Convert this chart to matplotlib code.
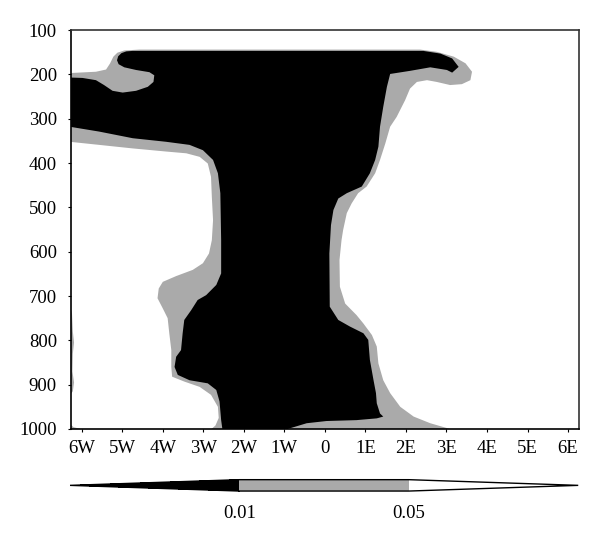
import matplotlib
matplotlib.use('Agg')
import matplotlib.pyplot as plt
from matplotlib.colors import ListedColormap, BoundaryNorm
from matplotlib.cm import ScalarMappable

plt.rcParams['font.family'] = ['Liberation Serif', 'DejaVu Serif']

# significance levels and colours
levels = [0.01, 0.05]
c_low, c_mid, c_high = 'black', '#aaaaaa', 'white'

# x tick positions and labels (distance W/E)
xticks = [-6, -5, -4, -3, -2, -1, 0, 1, 2, 3, 4, 5, 6]
xlabels = ['6W', '5W', '4W', '3W', '2W', '1W', '0', '1E', '2E', '3E', '4E', '5E', '6E']
# pressure levels (hPa)
yticks = [100, 200, 300, 400, 500, 600, 700, 800, 900, 1000]

# region p < 0.05 (outer outline)
grey_x = [-6.30, -5.65, -5.40, -5.30, -5.22, -5.12, -4.95, -4.58, 2.35, 2.76, 3.18, 3.47, 3.63,
          3.59, 3.38, 3.09, 2.76, 2.52, 2.27, 2.10, 1.98, 1.77, 1.61, 1.49, 1.36, 1.24,
          1.03, 0.82, 0.66, 0.54, 0.45, 0.41, 0.36, 0.37, 0.50, 0.78, 0.95, 1.16, 1.28,
          1.32, 1.44, 1.61, 1.86, 2.19, 2.60, 3.09, -2.80, -2.70, -2.62,
          -2.64, -2.81, -3.09, -3.47, -3.77, -3.79, -3.79, -3.84, -3.88, -4.00, -4.13,
          -4.10, -4.00, -3.67, -3.26, -3.01, -2.86, -2.79, -2.76, -2.79, -2.81, -2.89,
          -3.09, -3.42, -3.92, -4.74, -5.57, -6.30]
grey_p = [197, 194, 189, 175, 160, 151, 146, 144, 144, 149, 160, 175, 194,
          213, 222, 224, 217, 213, 217, 232, 258, 296, 318, 356, 393, 423,
          453, 468, 491, 513, 551, 574, 619, 679, 717, 743, 762, 788, 814,
          852, 890, 919, 950, 972, 987, 1000, 1000, 992, 975,
          950, 923, 905, 893, 882, 860, 822, 784, 750, 728, 705,
          683, 668, 655, 641, 626, 604, 574, 529, 476, 431, 401,
          386, 378, 374, 367, 359, 352]

# thin p < 0.05 slivers on the left edge
sliver_x = [-6.30, -6.24, -6.22, -6.19, -6.22, -6.23, -6.19, -6.22, -6.30]
sliver_p = [717, 740, 780, 805, 830, 870, 895, 915, 925]
corner_x = [-6.30, -6.20, -6.02, -6.30]
corner_p = [988, 996, 1000, 1000]

# region p < 0.01
black_x = [-6.30, -5.98, -5.65, -5.45, -5.24, -4.99, -4.66, -4.37, -4.23, -4.21, -4.33,
           -4.66, -4.95, -5.09, -5.13, -5.10, -5.02, -4.90, -4.74, 2.43, 2.85, 3.14, 3.30, 3.14,
           3.01, 2.60, 2.10, 1.61, 1.53, 1.44, 1.36, 1.32, 1.24, 1.11, 0.91, 0.54, 0.33,
           0.21, 0.15, 0.11, 0.12, 0.33, 0.62, 0.95, 1.07, 1.11, 1.20, 1.26, 1.28, 1.36,
           1.44, 1.28, 0.78, 0.04, -0.45, -0.92, -2.53, -2.56, -2.60, -2.68, -2.89,
           -3.34, -3.63, -3.71, -3.67, -3.55, -3.51, -3.47, -3.30, -3.14, -2.93, -2.68,
           -2.56, -2.56, -2.58, -2.64, -2.76, -3.01, -3.34, -3.92, -4.74, -5.57, -6.30]
black_p = [207, 208, 213, 224, 237, 241, 237, 228, 217, 202, 195,
           190, 184, 177, 168, 159, 152, 148, 147, 147, 153, 164, 183, 196,
           190, 184, 192, 199, 228, 273, 318, 363, 393, 423, 453, 468, 480,
           506, 540, 604, 724, 754, 769, 784, 799, 844, 890, 919, 942, 965,
           972, 976, 980, 982, 987, 1000, 1000, 980, 938, 912, 897,
           890, 878, 860, 837, 822, 784, 754, 732, 709, 698, 675,
           649, 574, 468, 423, 393, 371, 359, 352, 344, 329, 318]

fig = plt.figure(figsize=(6, 5.42), dpi=100)
ax = fig.add_axes([0.118, 0.2085, 0.847, 0.736])

ax.fill(grey_x, grey_p, color=c_mid, lw=0)
ax.fill(sliver_x, sliver_p, color=c_mid, lw=0)
ax.fill(corner_x, corner_p, color=c_mid, lw=0)
ax.fill(black_x, black_p, color=c_low, lw=0)

ax.set_xlim(-6.27, 6.27)
ax.set_ylim(1000, 100)
ax.set_xticks(xticks)
ax.set_xticklabels(xlabels)
ax.set_yticks(yticks)
ax.tick_params(direction='out', length=2, width=0.8, labelsize=13.5)
ax.tick_params(axis='x', pad=6)
ax.tick_params(axis='y', pad=8)
for s in ax.spines.values():
    s.set_linewidth(1.2)
    s.set_zorder(5)
ax.spines['top'].set_color('#333333')
ax.spines['right'].set_color('#333333')

# colour bar
cmap = ListedColormap([c_mid])
cmap.set_under(c_low)
cmap.set_over(c_high)
norm = BoundaryNorm(levels, cmap.N)
cax = fig.add_axes([0.1167, 0.094, 0.847, 0.021])
cb = fig.colorbar(ScalarMappable(norm=norm, cmap=cmap), cax=cax,
                  orientation='horizontal', extend='both', extendfrac=1.0,
                  ticks=levels)
cb.ax.set_xticklabels(['0.01', '0.05'])
cb.ax.tick_params(length=0, labelsize=13.5, pad=10)
cb.outline.set_linewidth(1.0)

plt.savefig('out.png', dpi=100)
